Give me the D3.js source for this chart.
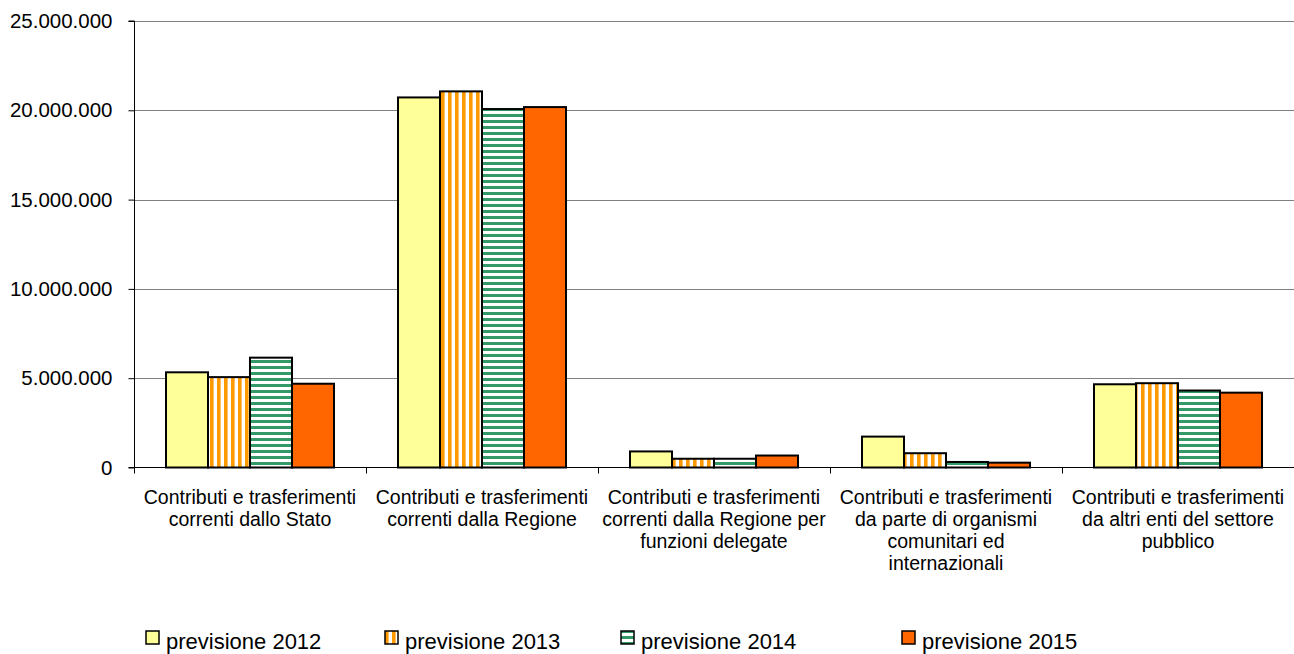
<!DOCTYPE html>
<html><head><meta charset="utf-8">
<script src="https://cdn.jsdelivr.net/npm/d3@7"></script>
<style>
body{margin:0;background:#fff;}
text{font-family:"Liberation Sans",Arial,sans-serif;fill:#000;}
</style></head>
<body>
<svg id="c" width="1294" height="654"></svg>
<script>
const categories = [
  ["Contributi e trasferimenti","correnti dallo Stato"],
  ["Contributi e trasferimenti","correnti dalla Regione"],
  ["Contributi e trasferimenti","correnti dalla Regione per","funzioni delegate"],
  ["Contributi e trasferimenti","da parte di organismi","comunitari ed","internazionali"],
  ["Contributi e trasferimenti","da altri enti del settore","pubblico"]
];
const seriesNames = ["previsione 2012","previsione 2013","previsione 2014","previsione 2015"];
const prev2012 = [5330000, 20720000, 900000, 1730000, 4660000];
const prev2013 = [5060000, 21060000, 490000, 800000, 4720000];
const prev2014 = [6150000, 20070000, 490000, 310000, 4310000];
const prev2015 = [4690000, 20180000, 670000, 270000, 4190000];
const yTicks = [0, 5000000, 10000000, 15000000, 20000000, 25000000];

const series = [prev2012, prev2013, prev2014, prev2015];
const fills = ["#FFFF99","url(#pOrange)","url(#pGreen)","#FF6600"];

const svg = d3.select("#c");
const defs = svg.append("defs");
const po = defs.append("pattern").attr("id","pOrange").attr("patternUnits","userSpaceOnUse")
  .attr("width",7).attr("height",7);
po.append("rect").attr("width",7).attr("height",7).attr("fill","#fff");
po.append("rect").attr("x",0).attr("width",3.6).attr("height",7).attr("fill","#FF9900");
const pg = defs.append("pattern").attr("id","pGreen").attr("patternUnits","userSpaceOnUse")
  .attr("width",6).attr("height",6);
pg.append("rect").attr("width",6).attr("height",6).attr("fill","#fff");
pg.append("rect").attr("y",0).attr("width",6).attr("height",3).attr("fill","#339966");

const L = 134, R = 1294, T = 21, B = 467.5;
const x0 = d3.scaleBand().domain(d3.range(categories.length)).range([L,R]).paddingInner(0).paddingOuter(0);
const x1 = d3.scaleBand().domain(d3.range(series.length)).range([0,x0.bandwidth()]).paddingOuter(0.762);
const y = d3.scaleLinear().domain([0,25000000]).range([B,T]);
const fmt = v => d3.format(",")(v).replace(/,/g,".");

// gridlines
svg.append("g").selectAll("line").data(yTicks.filter(d=>d>0)).join("line")
  .attr("x1",L).attr("x2",R).attr("y1",d=>Math.round(y(d))+0.5).attr("y2",d=>Math.round(y(d))+0.5)
  .attr("stroke","#808080").attr("stroke-width",1);

// y axis
const ya = svg.append("g").attr("transform",`translate(${L+0.5},0)`)
  .call(d3.axisLeft(y).tickValues(yTicks).tickFormat(fmt).tickSize(6).tickPadding(16));
ya.select(".domain").attr("stroke","#000").attr("d",`M-6,${T}H0V${B}H-6`);
ya.selectAll(".tick line").attr("stroke","#000");
ya.selectAll(".tick text").attr("font-size","20.5px").attr("fill","#000").style("font-family","Liberation Sans, Arial, sans-serif");

// bars
const g = svg.append("g");
series.forEach((s,si)=>{
  g.selectAll(null).data(s).join("rect")
    .attr("x",(d,i)=>x0(i)+x1(si))
    .attr("y",d=>y(d))
    .attr("width",x1.bandwidth())
    .attr("height",d=>B-y(d))
    .attr("fill",fills[si])
    .attr("stroke","#000").attr("stroke-width",2);
});

// x axis
svg.append("line").attr("x1",L).attr("x2",R).attr("y1",B).attr("y2",B).attr("stroke","#000").attr("stroke-width",1);
const xb = d3.range(categories.length+1).map(i=>L+i*x0.step());
svg.append("g").selectAll("line").data(xb).join("line")
  .attr("x1",d=>Math.round(d)+0.5).attr("x2",d=>Math.round(d)+0.5).attr("y1",B).attr("y2",B+6)
  .attr("stroke","#000");

// category labels
categories.forEach((lines,i)=>{
  const t = svg.append("text").attr("text-anchor","middle").attr("font-size","19.5px")
    .attr("x",x0(i)+x0.bandwidth()/2).attr("y",504);
  lines.forEach((ln,j)=>t.append("tspan").attr("x",x0(i)+x0.bandwidth()/2).attr("dy",j===0?0:22).text(ln));
});

// legend
const legX = [146,385,621,902];
const lg = svg.append("g");
seriesNames.forEach((n,i)=>{
  lg.append("rect").attr("x",legX[i]).attr("y",631).attr("width",13).attr("height",13)
    .attr("fill",fills[i]).attr("stroke","#000").attr("stroke-width",1.5);
  lg.append("text").attr("x",legX[i]+20).attr("y",649).attr("font-size","22px").text(n);
});
</script>
</body></html>
